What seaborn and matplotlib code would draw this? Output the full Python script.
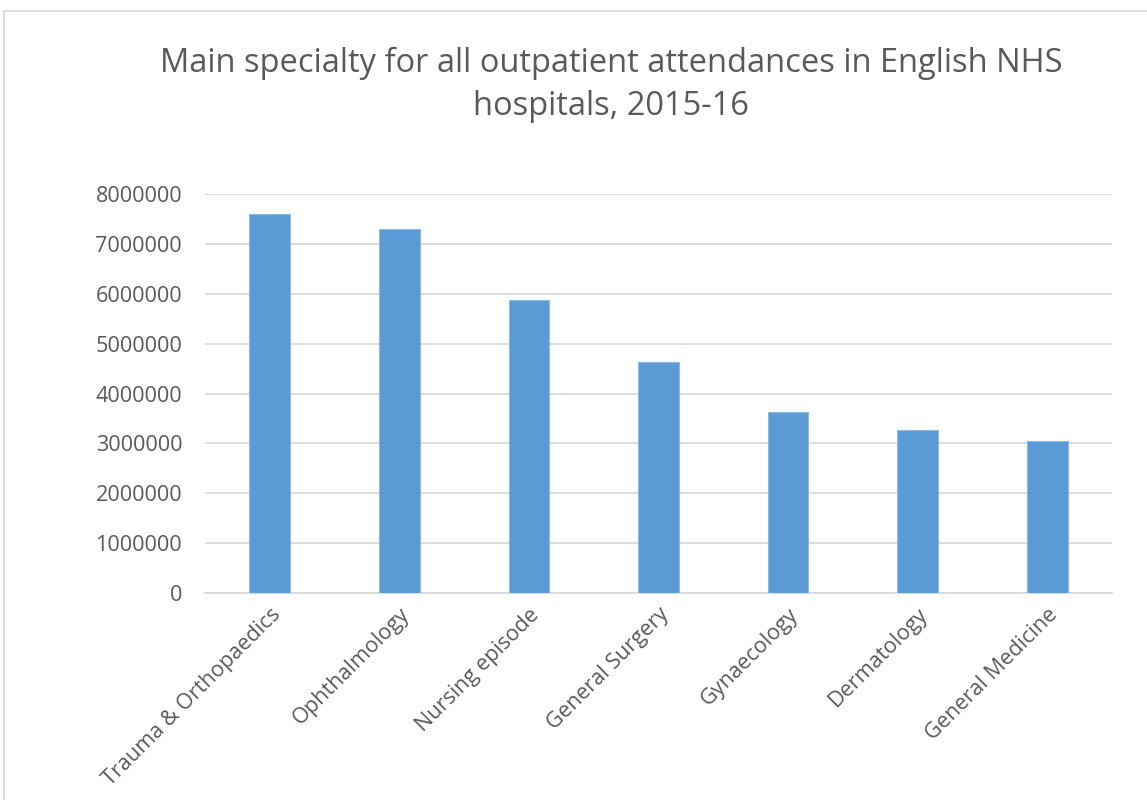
import matplotlib
matplotlib.use("Agg")
import matplotlib.pyplot as plt
import seaborn as sns
import pandas as pd

specialties = ["Trauma & Orthopaedics", "Ophthalmology", "Nursing episode",
               "General Surgery", "Gynaecology", "Dermatology", "General Medicine"]
attendances = [7590000, 7300000, 5880000, 4630000, 3630000, 3270000, 3040000]
y_ticks = [0, 1000000, 2000000, 3000000, 4000000, 5000000, 6000000, 7000000, 8000000]

df = pd.DataFrame({"specialty": specialties, "attendances": attendances})

sns.set_style("white")
plt.rcParams["font.family"] = ["Open Sans", "DejaVu Sans"]

W, H = 1147, 800
fig = plt.figure(figsize=(W / 100, H / 100), dpi=100)
ax = fig.add_axes([205 / W, (H - 593) / H, 907 / W, 399 / H])

sns.barplot(data=df, x="specialty", y="attendances", color="#5B9BD5",
            width=0.315, saturation=1, edgecolor="#8DB9E3", linewidth=0.8,
            ax=ax, zorder=3)

ax.set_ylim(0, 8000000)
ax.set_xlim(-0.5, len(specialties) - 0.5)
ax.set_yticks(y_ticks)
ax.set_yticklabels([str(v) for v in y_ticks])
ax.yaxis.grid(True, color="#D9D9D9", linewidth=1.3, zorder=0)
ax.set_axisbelow(True)
for side in ["top", "right", "left"]:
    ax.spines[side].set_visible(False)
ax.spines["bottom"].set_color("#D9D9D9")
ax.spines["bottom"].set_linewidth(1.3)
ax.tick_params(axis="both", length=0, colors="#595959", labelsize=15.6)
ax.tick_params(axis="y", pad=16.5)
ax.tick_params(axis="x", pad=8)
ax.set_xlabel("")
ax.set_ylabel("")
for lbl in ax.get_xticklabels():
    lbl.set_rotation(45)
    lbl.set_ha("right")
    lbl.set_va("top")
    lbl.set_rotation_mode("anchor")

fig.text(611 / W, 1 - 84.5 / H,
         "Main specialty for all outpatient attendances in English NHS\nhospitals, 2015-16",
         ha="center", va="center", fontsize=23.5, color="#595959", linespacing=1.4)

# chart frame
frame = plt.Rectangle((4 / W, -0.1), 2, 1.1 - 11 / H, transform=fig.transFigure,
                      fill=False, edgecolor="#D9D9D9", linewidth=1.3, clip_on=False)
fig.patches.append(frame)

fig.savefig("out.png", dpi=100, facecolor="white")
